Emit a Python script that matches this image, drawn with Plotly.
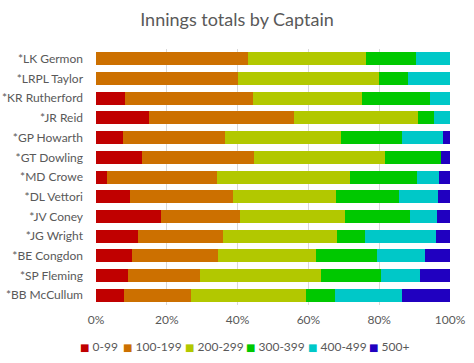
import plotly.graph_objects as go

captains = ["*LK Germon", "*LRPL Taylor", "*KR Rutherford", "*JR Reid", "*GP Howarth",
            "*GT Dowling", "*MD Crowe", "*DL Vettori", "*JV Coney", "*JG Wright",
            "*BE Congdon", "*SP Fleming", "*BB McCullum"]

series_names = ["0-99", "100-199", "200-299", "300-399", "400-499", "500+"]

s_0_99 =    [0.0, 0.0, 8.3, 15.0, 7.6, 13.0, 3.1, 9.6, 18.5, 12.0, 10.2, 9.0, 7.9]
s_100_199 = [42.9, 40.0, 36.1, 41.0, 28.8, 31.6, 31.2, 29.1, 22.2, 24.0, 24.3, 20.4, 18.9]
s_200_299 = [33.3, 40.0, 30.6, 35.0, 32.8, 37.0, 37.5, 29.1, 29.6, 32.0, 27.6, 34.2, 32.5]
s_300_399 = [14.3, 8.0, 19.4, 4.5, 17.2, 15.9, 18.8, 17.8, 18.5, 8.0, 17.3, 16.9, 8.2]
s_400_499 = [9.5, 12.0, 5.6, 4.5, 11.6, 0.0, 6.2, 11.0, 7.4, 20.0, 13.5, 11.0, 18.9]
s_500_plus = [0.0, 0.0, 0.0, 0.0, 2.0, 2.5, 3.1, 3.4, 3.7, 4.0, 7.1, 8.5, 13.6]

x_tick_vals = [0, 20, 40, 60, 80, 100]
x_tick_text = ["0%", "20%", "40%", "60%", "80%", "100%"]

all_series = [s_0_99, s_100_199, s_200_299, s_300_399, s_400_499, s_500_plus]
colors = ["#C00000", "#CC7000", "#B2C800", "#00C800", "#00C8C8", "#2000C0"]

fig = go.Figure()
for name, vals, col in zip(series_names, all_series, colors):
    fig.add_trace(go.Bar(
        y=captains, x=vals, name=name, orientation="h",
        marker=dict(color=col, line=dict(width=0)),
        hoverinfo="skip", showlegend=False,
    ))

# legend drawn as text entries (coloured square glyph + label)
legend_x = [-0.048, 0.0734, 0.2486, 0.4209, 0.596, 0.768]
for name, col, lx in zip(series_names, colors, legend_x):
    fig.add_annotation(
        xref="paper", yref="paper", x=lx, y=-0.164, xanchor="left", yanchor="middle",
        text=f"<span style='color:{col};font-family:DejaVu Sans;font-size:10px'>■</span> {name}",
        showarrow=False, font=dict(size=12, color="#595959"), borderpad=0,
    )

fig.update_layout(
    width=474, height=363,
    barmode="stack",
    bargap=0.34,
    paper_bgcolor="white", plot_bgcolor="white",
    margin=dict(l=96, r=24, t=49, b=58, autoexpand=False),
    font=dict(family="Lato, Carlito, sans-serif", size=12, color="#595959"),
    title=dict(text="Innings totals by Captain", x=0.5, xanchor="center",
               y=1 - 20 / 363, yanchor="middle", xref="container", yref="container",
               font=dict(size=18, color="#595959")),
    xaxis=dict(range=[0, 100], tickmode="array", tickvals=x_tick_vals, ticktext=x_tick_text,
               showgrid=True, gridcolor="#D9D9D9", gridwidth=1, zeroline=False,
               showline=False, ticks="", ticklabelstandoff=6),
    yaxis=dict(autorange="reversed", showgrid=False, zeroline=False, showline=False,
               ticks="", ticklabelstandoff=12),
    showlegend=False,
)

fig.write_html("out.html", config={"displayModeBar": False},
               post_script="document.body.style.margin='0';document.body.style.padding='0';")
